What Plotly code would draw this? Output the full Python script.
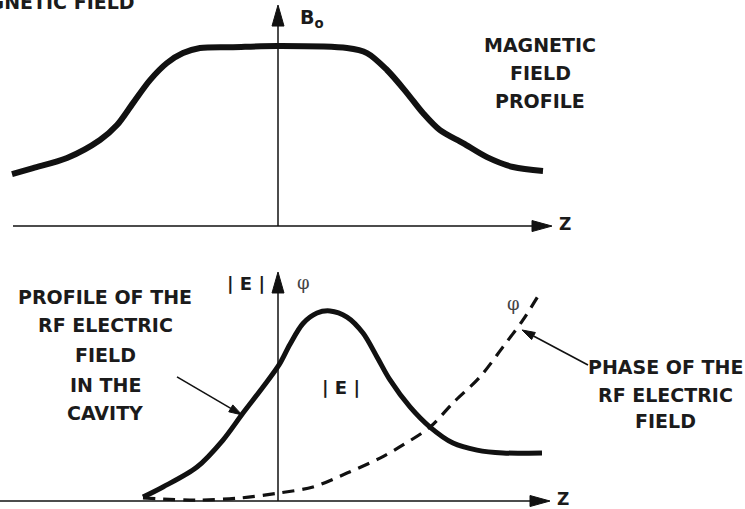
import plotly.graph_objects as go

# --- Magnetic field profile B0(z) (upper panel) ---
z_b = [-2.66, -2.45, -2.11, -1.78, -1.61, -1.45, -1.28, -1.11, -0.95, -0.78, -0.45,
       0.0, 0.69, 0.89, 1.09, 1.29, 1.45, 1.62, 1.85, 2.09, 2.35, 2.65]
b0 = [0.289, 0.322, 0.378, 0.478, 0.561, 0.683, 0.811, 0.906, 0.961, 0.989, 0.994,
      1.0, 0.989, 0.961, 0.867, 0.739, 0.628, 0.533, 0.461, 0.383, 0.328, 0.306]

# --- RF electric field amplitude |E|(z) (lower panel) ---
z_e = [-1.35, -1.15, -0.81, -0.55, -0.35, -0.15, 0.01, 0.12, 0.25, 0.39, 0.52,
       0.69, 0.85, 0.99, 1.12, 1.32, 1.52, 1.75, 1.99, 2.25, 2.64]
e_amp = [0.021, 0.074, 0.179, 0.321, 0.463, 0.600, 0.716, 0.825, 0.934, 0.989, 1.0,
         0.968, 0.884, 0.758, 0.637, 0.495, 0.389, 0.305, 0.268, 0.253, 0.253]

# --- RF phase phi(z) (lower panel, dashed) ---
z_p = [-1.35, -0.81, -0.38, 0.01, 0.35, 0.69, 1.02, 1.25, 1.52, 1.75, 2.02, 2.25, 2.45, 2.62]
phase = [0.016, 0.005, 0.016, 0.042, 0.074, 0.147, 0.226, 0.295, 0.389, 0.516,
         0.653, 0.811, 0.953, 1.095]

# axis extents of the two diagrams
Z_RANGE = [-2.78, 4.67]
B_RANGE = [-0.158, 1.256]
E_RANGE = [-0.042, 1.297]
TOP_AXIS_Z = [-2.65, 2.74]
BOT_AXIS_Z = [-2.78, 2.72]
TOP_AXIS_V = 1.228
BOT_AXIS_V = 1.205

# block captions, one entry per line
MAG_LINES = ["MAGNETIC", "FIELD", "PROFILE"]
MAG_Y = [1.006, 0.850, 0.694]
PROF_LINES = ["PROFILE OF THE", "RF ELECTRIC", "FIELD", "IN THE", "CAVITY"]
PROF_Y = [1.074, 0.926, 0.768, 0.611, 0.463]
PHASE_LINES = ["PHASE OF THE", "RF ELECTRIC", "FIELD"]
PHASE_Y = [0.705, 0.558, 0.421]

W, H = 745, 509
INK = "#111111"
TXT = "#1b1b1b"
FONT = "DejaVu Sans"

# pixel scale of each axis (for drawing arrow heads with a fixed pixel size)
sx = W / (Z_RANGE[1] - Z_RANGE[0])
sy_top = (H / 2) / (B_RANGE[1] - B_RANGE[0])
sy_bot = (H / 2) / (E_RANGE[1] - E_RANGE[0])

fig = go.Figure()


def line(xs, ys, yaxis, width, dash=None):
    fig.add_trace(go.Scatter(
        x=xs, y=ys, yaxis=yaxis, mode="lines", hoverinfo="skip", showlegend=False,
        line=dict(color=INK, width=width, shape="spline", smoothing=0.9,
                  dash=dash),
    ))


def arrow(x0, y0, x1, y1, yaxis, sy, head_len, head_w, width=1.5):
    """Straight arrow from (x0, y0) to the tip (x1, y1) with a filled head."""
    dx, dy = (x1 - x0) * sx, (y1 - y0) * sy
    n = (dx * dx + dy * dy) ** 0.5
    ux, uy = dx / n, dy / n
    bx, by = x1 - ux * head_len / sx, y1 - uy * head_len / sy
    px, py = -uy * head_w / 2, ux * head_w / 2
    fig.add_trace(go.Scatter(
        x=[x0, bx], y=[y0, by], yaxis=yaxis, mode="lines", hoverinfo="skip",
        showlegend=False, line=dict(color=INK, width=width)))
    fig.add_trace(go.Scatter(
        x=[x1, bx + px / sx, bx - px / sx, x1],
        y=[y1, by + py / sy, by - py / sy, y1],
        yaxis=yaxis, mode="lines", fill="toself", fillcolor=INK, hoverinfo="skip",
        showlegend=False, line=dict(color=INK, width=1)))


# diagram axes
arrow(TOP_AXIS_Z[0], 0, TOP_AXIS_Z[1], 0, "y", sy_top, 20, 11)
arrow(0, 0, 0, TOP_AXIS_V, "y", sy_top, 21, 12)
arrow(BOT_AXIS_Z[0], 0, BOT_AXIS_Z[1], 0, "y2", sy_bot, 20, 11)
arrow(0, 0, 0, BOT_AXIS_V, "y2", sy_bot, 21, 12)

# curves
line(z_b, b0, "y", 6)
line(z_e, e_amp, "y2", 5)
line(z_p, phase, "y2", 3.2, dash="12px,8px")

# pointer arrows
arrow(-1.01, 0.653, -0.36, 0.453, "y2", sy_bot, 13, 8, width=1.6)
arrow(3.10, 0.716, 2.44, 0.900, "y2", sy_bot, 13, 8, width=1.6)


def label(text, x, y, yref, size=19, xanchor="center", yanchor="middle",
          family=FONT, color=TXT):
    fig.add_annotation(
        text=text, x=x, y=y, xref="x", yref=yref, showarrow=False,
        xanchor=xanchor, yanchor=yanchor, align="center",
        font=dict(family=family, size=size, color=color))


bold = lambda s: "<b>" + s + "</b>"

# upper panel text (heading runs off the top-left corner)
fig.add_annotation(text=bold("MAGNETIC FIELD"), x=137 / W, y=1 - 15 / H,
                   xref="paper", yref="paper", xanchor="right", yanchor="bottom",
                   showarrow=False, font=dict(family=FONT, size=19, color=TXT))
label(bold("B<sub>o</sub>"), 0.20, 1.155, "y", xanchor="left")
label(bold("Z"), 2.87, 0.01, "y", size=17)
for s, v in zip(MAG_LINES, MAG_Y):
    label(bold(s), 2.62, v, "y")

# lower panel text
label(bold("| E |"), -0.32, 1.145, "y2", size=18)
label("φ", 0.25, 1.150, "y2", size=18, family="DejaVu Serif", color="#444444")
label("φ", 2.35, 1.040, "y2", size=18, family="DejaVu Serif", color="#444444")
label(bold("| E |"), 0.63, 0.595, "y2", size=18)
label(bold("Z"), 2.85, 0.01, "y2", size=17)
for s, v in zip(PROF_LINES, PROF_Y):
    label(bold(s), -1.73, v, "y2")
for s, v in zip(PHASE_LINES, PHASE_Y):
    label(bold(s), 3.87, v, "y2")

fig.update_layout(
    width=W, height=H, margin=dict(l=0, r=0, t=0, b=0),
    paper_bgcolor="white", plot_bgcolor="white",
    xaxis=dict(range=Z_RANGE, visible=False, fixedrange=True),
    yaxis=dict(range=B_RANGE, domain=[0.5, 1], visible=False, fixedrange=True),
    yaxis2=dict(range=E_RANGE, domain=[0, 0.5], visible=False, anchor="x",
                fixedrange=True),
)

fig.write_html("out.html")
